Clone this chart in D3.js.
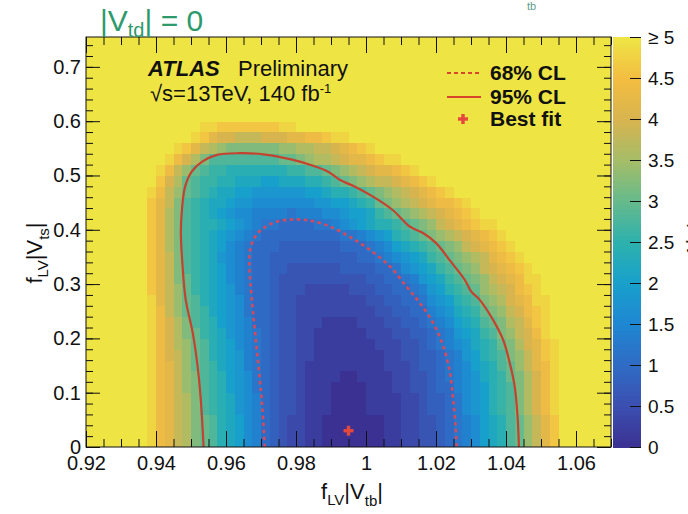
<!DOCTYPE html>
<html>
<head>
<meta charset="utf-8">
<script src="https://cdn.jsdelivr.net/npm/d3@7"></script>
<style>
  html, body { margin: 0; padding: 0; background: #fff; }
  svg { display: block; font-family: "Liberation Sans", Arial, Helvetica, sans-serif; }
</style>
</head>
<body>
<svg id="chart" width="688" height="514"></svg>
<script>
// ---------------------------------------------------------------------------
// Likelihood scan: -ΔlnL over (f_LV|V_tb|, f_LV|V_ts|) with |V_td| = 0
// ---------------------------------------------------------------------------

// Binning of the scan grid
const X_BIN_START = 0.92;
const X_BIN_WIDTH = 0.0025;
const N_COLS = 60;
const Y_BIN_START = 0;
const Y_BIN_HEIGHT = 0.02;

// -ΔlnL per bin, one string per row (bottom row first), one base-36 digit per bin
// in steps of 0.2 ('0' = 0, 'a' = 2.0, 'f' = 3.0, 'p' = 5.0 meaning ≥ 5).
// Bins not listed at the right end of a row are saturated (≥ 5).
const nllRows = [
  "ppppppp omljig fecba87 54322110000 00011223345 678abce fhjln",
  "ppppppp omljig fecba87 54322110000 00011223345 678abce fhjln",
  "ppppppp omljig fecba87 54322110000 00011223345 678abce fhjln",
  "ppppppp omljig edcb987 5433211100 001111223445 689acde gikmo",
  "ppppppp omljig edcb987 5433211100 001111223445 689acde gikmo",
  "ppppppp omljhg edca986 5433211100 001112233455 789acde gikmo",
  "ppppppp omljhg edca986 5433211110 011112233456 789bcdf gikmo",
  "ppppppp omljhf edba976 5433211111 111122234456 78abcef hjlmo",
  "ppppppp omkjhf ecba976 5433221111 11112233445 679acde ghjlno",
  "ppppppp omkih fecba876 5433221111 11122233456 789bcdf giklno",
  "ppppppp omkig fdcb987 6543322111 11122233445 679abde ghjkmo",
  "ppppppp omkig edca987 5543322211 11222334456 78abcef gijlno",
  "ppppppp omjhf edba986 554332222 22222334455 789bcdf ghjkmno",
  "ppppppp oljh fecba986 554332222 2222334455 689acde ghiklmoo",
  "ppppppp nljh fdcba976 55433322 2223334455 679acde fhijkmno",
  "ppppppp nljg fdcba876 55433333 333334455 679abde fghjklmoo",
  "ppppppp nljg edcba876 5544333 333444455 689abde fghjklmno",
  "ppppppp nljg edcb9876 5544444 44444556 789abde fghijlmno",
  "ppppppp nlig edcba876 555444 4444555 678abcde fghjklmno",
  "ppppppp nlig edcba987 655555 55556 6789acdef ghijklmno",
  "ppppppp nlig edccba9876 655 556 6789abccde fghjklmnoo",
  "ppppppp nlig edcba9887777 6777889aabde fghijklmno",
  "ppppppp nljg edcbba998888 88899aabcdf ghijklmmno",
  "ppppppp omjh fedcbbaa999 999aabccde fghijklmno",
  "pppppppp nkif eddccbbba abbbccdef ghijjklmno",
  "pppppppp omjh feddcccc cccddee fghijkllmno",
  "ppppppppp omkig eeee eeeef fghiijkllmnoo",
  "pppppppppp onljihgg gggghhiijjklmno",
  "pppppppppppp onlkkj jjkkkllmmnoo",
  "ppppppppppppp oonnnnnnnoo",
  "pppppppppp pppppppppp pppppppppp pppppppppp pppppppppp pppppppppp",
  "pppppppppp pppppppppp pppppppppp pppppppppp pppppppppp pppppppppp",
  "pppppppppp pppppppppp pppppppppp pppppppppp pppppppppp pppppppppp",
  "pppppppppp pppppppppp pppppppppp pppppppppp pppppppppp pppppppppp",
  "pppppppppp pppppppppp pppppppppp pppppppppp pppppppppp pppppppppp",
  "pppppppppp pppppppppp pppppppppp pppppppppp pppppppppp pppppppppp",
  "pppppppppp pppppppppp pppppppppp pppppppppp pppppppppp pppppppppp",
  "pppppppppp pppppppppp pppppppppp pppppppppp pppppppppp pppppppppp"
];

// 95% CL contour, [f_LV|V_tb|, f_LV|V_ts|]
const contour95 = [
  [0.9536, 0.000], [0.9528, 0.087], [0.9519, 0.148], [0.9505, 0.210], [0.9485, 0.271],
  [0.9476, 0.332], [0.9471, 0.394], [0.9474, 0.436], [0.9483, 0.479], [0.9502, 0.507],
  [0.9531, 0.525], [0.9574, 0.538], [0.9640, 0.541], [0.9707, 0.539], [0.9783, 0.530],
  [0.9849, 0.518], [0.9892, 0.507], [0.9925, 0.492], [0.9963, 0.481], [1.0020, 0.461],
  [1.0077, 0.436], [1.0125, 0.406], [1.0163, 0.394], [1.0201, 0.375], [1.0239, 0.344],
  [1.0282, 0.308], [1.0301, 0.286], [1.0325, 0.271], [1.0363, 0.234], [1.0392, 0.197],
  [1.0411, 0.154], [1.0425, 0.111], [1.0433, 0.056], [1.0437, 0.000]
];

// 68% CL contour
const contour68 = [
  [0.9711, 0.000], [0.9702, 0.087], [0.9688, 0.179], [0.9674, 0.271], [0.9667, 0.332],
  [0.9669, 0.363], [0.9683, 0.387], [0.9707, 0.403], [0.9745, 0.415], [0.9793, 0.419],
  [0.9840, 0.417], [0.9897, 0.406], [0.9954, 0.387], [1.0011, 0.363], [1.0069, 0.332],
  [1.0116, 0.295], [1.0154, 0.265], [1.0192, 0.228], [1.0221, 0.185], [1.0240, 0.136],
  [1.0249, 0.087], [1.0256, 0.037], [1.0259, 0.000]
];

// Best-fit point
const bestFit = [0.995, 0.03];

// Axes
const xTicks = [0.92, 0.94, 0.96, 0.98, 1.00, 1.02, 1.04, 1.06];
const xTickLabels = ["0.92", "0.94", "0.96", "0.98", "1", "1.02", "1.04", "1.06"];
const yTicks = [0, 0.1, 0.2, 0.3, 0.4, 0.5, 0.6, 0.7];
const yTickLabels = ["0", "0.1", "0.2", "0.3", "0.4", "0.5", "0.6", "0.7"];
const zTicks = [0, 0.5, 1, 1.5, 2, 2.5, 3, 3.5, 4, 4.5, 5];
const zTickLabels = ["0", "0.5", "1", "1.5", "2", "2.5", "3", "3.5", "4", "4.5", "≥ 5"];

// Palette, one colour per 0.5 of -ΔlnL from 0 to 5
const paletteColors = [
  "#3b3192", "#3b4fb0", "#2f6bc5", "#1f87d2", "#18a0cc", "#2db1ad",
  "#66ba8c", "#a6bd67", "#d8b44f", "#f3bd41", "#eee545"
];

// ---------------------------------------------------------------------------
const svg = d3.select("#chart");
const frame = { left: 86, right: 611, top: 37, bottom: 447 };

const x = d3.scaleLinear().domain([0.92, 1.07]).range([frame.left, frame.right]);
const y = d3.scaleLinear().domain([0, 0.755]).range([frame.bottom, frame.top]);
const zMax = 5;
const color = d3.scaleLinear()
  .domain(paletteColors.map((_, k) => k * zMax / (paletteColors.length - 1)))
  .range(paletteColors)
  .interpolate(d3.interpolateRgb)
  .clamp(true);

// Decode the grid
const cells = [];
nllRows.forEach((row, j) => {
  const s = row.replace(/ /g, "").padEnd(N_COLS, "p");
  for (let i = 0; i < N_COLS; i++) {
    cells.push({
      x0: X_BIN_START + i * X_BIN_WIDTH,
      y0: Y_BIN_START + j * Y_BIN_HEIGHT,
      z: parseInt(s[i], 36) / 5
    });
  }
});

svg.append("defs").append("clipPath").attr("id", "plot-clip")
  .append("rect")
  .attr("x", frame.left).attr("y", frame.top)
  .attr("width", frame.right - frame.left).attr("height", frame.bottom - frame.top);

// Heat map
svg.append("g")
  .attr("clip-path", "url(#plot-clip)")
  .attr("shape-rendering", "crispEdges")
  .selectAll("rect")
  .data(cells)
  .join("rect")
  .attr("x", d => x(d.x0))
  .attr("y", d => y(d.y0 + Y_BIN_HEIGHT))
  .attr("width", d => x(d.x0 + X_BIN_WIDTH) - x(d.x0) + 0.4)
  .attr("height", d => y(d.y0) - y(d.y0 + Y_BIN_HEIGHT) + 0.4)
  .attr("fill", d => color(d.z));

// Contours
const lineGen = d3.line().x(d => x(d[0])).y(d => y(d[1])).curve(d3.curveCatmullRom.alpha(0.5));
const contours = svg.append("g").attr("clip-path", "url(#plot-clip)").attr("fill", "none");
contours.append("path")
  .attr("d", lineGen(contour95))
  .attr("stroke", "#c4422f").attr("stroke-width", 2.2);
contours.append("path")
  .attr("d", lineGen(contour68))
  .attr("stroke", "#d64a5c").attr("stroke-width", 2.6)
  .attr("stroke-dasharray", "3.5,3.5");

// Best-fit marker
function plusMarker(g, cx, cy, size, thick, fill) {
  g.append("rect").attr("x", cx - size / 2).attr("y", cy - thick / 2)
    .attr("width", size).attr("height", thick).attr("fill", fill);
  g.append("rect").attr("x", cx - thick / 2).attr("y", cy - size / 2)
    .attr("width", thick).attr("height", size).attr("fill", fill);
}
plusMarker(svg.append("g"), x(bestFit[0]), y(bestFit[1]), 10, 3.4, "#e4473c");

// Frame and axes (ticks inside, on all four sides)
const tickMajorX = 16, tickMinorX = 8, tickMajorY = 14, tickMinorY = 7;
const xMinor = x.ticks(30);
const yMinor = y.ticks(38);

function styleAxis(g) {
  g.select(".domain").remove();
  g.selectAll("line").attr("stroke", "#111").attr("stroke-width", 1);
  g.selectAll("text").attr("font-size", 20).attr("fill", "#111")
    .attr("font-family", '"Liberation Sans", Arial, sans-serif');
}

svg.append("g").attr("transform", `translate(0,${frame.bottom})`)
  .call(d3.axisBottom(x).tickValues(xMinor).tickSize(-tickMinorX).tickFormat(""))
  .call(styleAxis);
svg.append("g").attr("transform", `translate(0,${frame.bottom})`)
  .call(d3.axisBottom(x).tickValues(xTicks).tickSize(-tickMajorX).tickPadding(9)
    .tickFormat((d, i) => xTickLabels[i]))
  .call(styleAxis);
svg.append("g").attr("transform", `translate(0,${frame.top})`)
  .call(d3.axisTop(x).tickValues(xMinor).tickSize(-tickMinorX).tickFormat(""))
  .call(styleAxis);
svg.append("g").attr("transform", `translate(0,${frame.top})`)
  .call(d3.axisTop(x).tickValues(xTicks).tickSize(-tickMajorX).tickFormat(""))
  .call(styleAxis);

svg.append("g").attr("transform", `translate(${frame.left},0)`)
  .call(d3.axisLeft(y).tickValues(yMinor).tickSize(-tickMinorY).tickFormat(""))
  .call(styleAxis);
svg.append("g").attr("transform", `translate(${frame.left},0)`)
  .call(d3.axisLeft(y).tickValues(yTicks).tickSize(-tickMajorY).tickPadding(5)
    .tickFormat((d, i) => yTickLabels[i]))
  .call(styleAxis);
svg.append("g").attr("transform", `translate(${frame.right},0)`)
  .call(d3.axisRight(y).tickValues(yMinor).tickSize(-tickMinorY).tickFormat(""))
  .call(styleAxis);
svg.append("g").attr("transform", `translate(${frame.right},0)`)
  .call(d3.axisRight(y).tickValues(yTicks).tickSize(-tickMajorY).tickFormat(""))
  .call(styleAxis);

svg.append("rect")
  .attr("x", frame.left).attr("y", frame.top)
  .attr("width", frame.right - frame.left).attr("height", frame.bottom - frame.top)
  .attr("fill", "none").attr("stroke", "#111").attr("stroke-width", 1);

// Colour bar
const bar = { left: 613, right: 641 };
const z = d3.scaleLinear().domain([0, zMax]).range([frame.bottom, frame.top]);
const nSlices = 200;
svg.append("g").attr("shape-rendering", "crispEdges")
  .selectAll("rect")
  .data(d3.range(nSlices))
  .join("rect")
  .attr("x", bar.left)
  .attr("width", bar.right - bar.left)
  .attr("y", k => z((k + 1) * zMax / nSlices))
  .attr("height", k => z(k * zMax / nSlices) - z((k + 1) * zMax / nSlices) + 0.5)
  .attr("fill", k => color((k + 0.5) * zMax / nSlices));
svg.append("g").attr("transform", `translate(${bar.right},0)`)
  .call(d3.axisRight(z).tickValues(zTicks).tickSize(-11).tickPadding(7)
    .tickFormat((d, i) => zTickLabels[i]))
  .call(styleAxis)
  .call(g => g.selectAll("text").attr("font-size", 19));

// Colour bar title (runs off the right edge)
svg.append("text")
  .attr("transform", "translate(701,243) rotate(-90)")
  .attr("text-anchor", "middle")
  .attr("font-size", 20)
  .attr("fill", "#222")
  .text("−ΔlnL");

// Axis titles
const xTitle = svg.append("text").attr("x", 352).attr("y", 499)
  .attr("text-anchor", "middle").attr("font-size", 22).attr("fill", "#111");
xTitle.append("tspan").text("f");
xTitle.append("tspan").attr("font-size", 15).attr("dy", 6).text("LV");
xTitle.append("tspan").attr("dy", -6).text("|V");
xTitle.append("tspan").attr("font-size", 15).attr("dy", 7).text("tb");
xTitle.append("tspan").attr("dy", -7).text("|");

const yTitle = svg.append("text").attr("transform", "translate(42,253) rotate(-90)")
  .attr("text-anchor", "middle").attr("font-size", 22).attr("fill", "#111");
yTitle.append("tspan").text("f");
yTitle.append("tspan").attr("font-size", 15).attr("dy", 6).text("LV");
yTitle.append("tspan").attr("dy", -6).text("|V");
yTitle.append("tspan").attr("font-size", 15).attr("dy", 7).text("ts");
yTitle.append("tspan").attr("dy", -7).text("|");

// ATLAS label
svg.append("text").attr("x", 148).attr("y", 76)
  .attr("font-size", 22).attr("font-weight", "bold").attr("font-style", "italic")
  .attr("fill", "#111").text("ATLAS");
svg.append("text").attr("x", 238).attr("y", 76)
  .attr("font-size", 22).attr("fill", "#111").text("Preliminary");
const energy = svg.append("text").attr("x", 150).attr("y", 101)
  .attr("font-size", 22).attr("fill", "#111");
energy.append("tspan").text("√s=13TeV, 140 fb");
energy.append("tspan").attr("font-size", 13).attr("dy", -8).text("-1");

// Legend
const legendColor = "#d9452b";
svg.append("line").attr("x1", 447).attr("x2", 481).attr("y1", 73).attr("y2", 73)
  .attr("stroke", legendColor).attr("stroke-width", 2.2).attr("stroke-dasharray", "4,3");
svg.append("line").attr("x1", 447).attr("x2", 481).attr("y1", 97).attr("y2", 97)
  .attr("stroke", legendColor).attr("stroke-width", 2.2);
plusMarker(svg.append("g"), 463, 119, 10, 3.4, "#e4473c");
const legendLabels = [["68% CL", 80], ["95% CL", 104], ["Best fit", 126]];
legendLabels.forEach(([label, yy]) => {
  svg.append("text").attr("x", 490).attr("y", yy)
    .attr("font-size", 21).attr("font-weight", "bold").attr("fill", "#111").text(label);
});

// Panel heading
const heading = svg.append("text").attr("x", 100).attr("y", 31)
  .attr("font-size", 30).attr("fill", "#2e9a6c");
heading.append("tspan").text("|V");
heading.append("tspan").attr("font-size", 20).attr("dy", 6).text("td");
heading.append("tspan").attr("dy", -6).text("| = 0");

// Fragment of a neighbouring heading, cut by the top edge
svg.append("text").attr("x", 527).attr("y", 10)
  .attr("font-size", 11).attr("fill", "#5f9c8a").text("tb");
</script>
</body>
</html>
